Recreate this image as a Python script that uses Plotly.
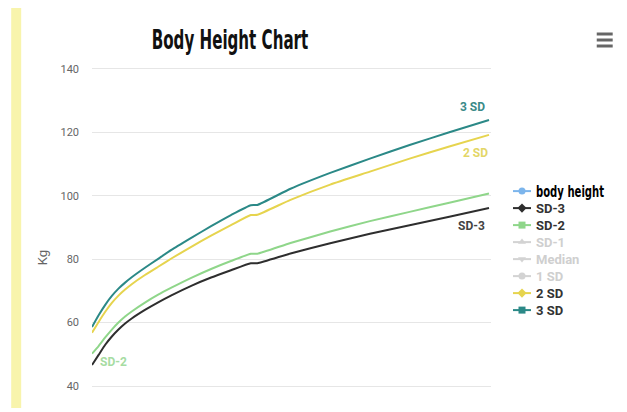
import plotly.graph_objects as go

# Age in months (the step at 24 is the switch from lying length to standing height)
months = [0, 1, 2, 3, 4, 5, 6, 8, 10, 12, 15, 18, 21, 24, 25, 30, 36, 42, 48, 54, 60]

sd_minus3 = [46.6, 49.8, 53.0, 55.6, 57.8, 59.7, 61.3, 64.0, 66.4, 68.6, 71.6, 74.2, 76.5, 78.7, 78.7,
             81.8, 85.0, 88.0, 90.7, 93.4, 96.1]
sd_minus2 = [50.2, 52.6, 55.3, 57.8, 60.0, 61.9, 63.5, 66.3, 68.8, 71.0, 74.1, 76.9, 79.4, 81.7, 81.7,
             85.1, 88.7, 92.0, 94.9, 97.8, 100.7]
sd_plus2 = [56.8, 60.2, 63.4, 66.2, 68.5, 70.4, 72.1, 75.0, 77.6, 80.2, 83.9, 87.4, 90.7, 93.9, 94.0,
            98.7, 103.5, 107.6, 111.7, 115.5, 119.2]
sd_plus3 = [58.6, 62.3, 65.6, 68.4, 70.7, 72.6, 74.3, 77.3, 80.1, 82.9, 86.7, 90.4, 93.9, 97.0, 97.1,
            102.2, 107.2, 111.7, 116.0, 120.0, 123.9]

body_months = [1]
body_height = [50.8]

y_ticks = [40, 60, 80, 100, 120, 140]

W, H = 627, 412
L, R, T, B = 92, 135, 60, 0


def px(x, y):
    """Pixel position -> paper coordinates of the plot area."""
    return (x - L) / (W - L - R), (H - B - y) / (H - T - B)


fig = go.Figure()


def series(name, xs, ys, color, symbol, visible=True):
    fig.add_trace(go.Scatter(
        x=xs, y=ys, name=name, mode="lines+markers", visible=visible,
        line=dict(color=color, width=2, shape="spline", smoothing=0.5),
        marker=dict(color=color, size=7, symbol=symbol),
        # markers only show up in the legend, not along the lines
        selectedpoints=[], unselected=dict(marker=dict(opacity=0)),
        hoverinfo="skip",
    ))


series('<span style="font-family:\'DejaVu Sans Condensed\';font-size:14px;color:#000">body height</span>',
       body_months, body_height, "#7cb5ec", "circle")
series("SD-3", months, sd_minus3, "#2e2e2e", "diamond")
series("SD-2", months, sd_minus2, "#8fd68a", "square")
series('<span style="color:#a0a0a0">SD-1</span>', months, [None] * len(months), "#a8a8a8",
       "triangle-up", visible="legendonly")
series('<span style="color:#a0a0a0">Median</span>', months, [None] * len(months), "#a8a8a8",
       "triangle-down", visible="legendonly")
series('<span style="color:#a0a0a0">1 SD</span>', months, [None] * len(months), "#a8a8a8",
       "circle", visible="legendonly")
series("2 SD", months, sd_plus2, "#e6d44e", "diamond")
series("3 SD", months, sd_plus3, "#2b8987", "square")

# Series labels at the line ends
lab_font = dict(family="Roboto", size=12, color="#333")
fig.add_annotation(x=months[-1], y=sd_plus3[-1], text="<b>3 SD</b>", showarrow=False,
                   xanchor="right", yanchor="middle", yshift=13, xshift=-2,
                   font=dict(lab_font, color="#3a8a88"))
fig.add_annotation(x=months[-1], y=sd_plus2[-1], text="<b>2 SD</b>", showarrow=False,
                   xanchor="right", yanchor="middle", yshift=-18, xshift=1,
                   font=dict(lab_font, color="#e3d666"))
fig.add_annotation(x=months[-1], y=sd_minus3[-1], text="<b>SD-3</b>", showarrow=False,
                   xanchor="right", yanchor="middle", yshift=-18, xshift=-2,
                   font=dict(lab_font, color="#444"))
fig.add_annotation(x=months[0], y=sd_minus2[0], text="<b>SD-2</b>", showarrow=False,
                   xanchor="left", yanchor="middle", yshift=-8, xshift=6,
                   font=dict(lab_font, color="#a6dca2"))

# Axis title
kx, ky = px(42, 258)
fig.add_annotation(x=kx, y=ky, xref="paper", yref="paper", text="Kg", showarrow=False,
                   xanchor="center", yanchor="middle", textangle=-90,
                   font=dict(family="Roboto", size=13, color="#666"))

# Title
tx, ty = px(230, 40)
fig.add_annotation(x=tx, y=ty, xref="paper", yref="paper", text="<b>Body Height Chart</b>",
                   showarrow=False, xanchor="center", yanchor="middle",
                   font=dict(family="DejaVu Sans Condensed", size=24, color="#111"))

shapes = []
# yellow strip on the left edge
x0, y0 = px(11, 408)
x1, y1 = px(21, 8)
shapes.append(dict(type="rect", xref="paper", yref="paper", x0=x0, y0=y0, x1=x1, y1=y1,
                   fillcolor="#f8f4ac", line=dict(width=0), layer="below"))
# menu button
for yy in (34, 40, 46):
    a, b = px(598, yy)
    c, _ = px(614, yy)
    shapes.append(dict(type="line", xref="paper", yref="paper", x0=a, y0=b, x1=c, y1=b,
                       line=dict(color="#666", width=3)))

lx, ly = px(497, 251)
fig.update_layout(
    width=W, height=H,
    margin=dict(l=L, r=R, t=T, b=B),
    paper_bgcolor="white", plot_bgcolor="white",
    shapes=shapes,
    showlegend=True,
    legend=dict(x=lx, y=ly, xanchor="left", yanchor="middle",
                font=dict(family="Roboto", size=13, color="#333", weight="bold"),
                itemwidth=30, tracegroupgap=0, bgcolor="rgba(0,0,0,0)"),
    xaxis=dict(range=[0, 60.3], visible=False),
    yaxis=dict(range=[31.8, 142.8], tickvals=y_ticks, showgrid=True, gridcolor="#e6e6e6",
               gridwidth=1, zeroline=False, showline=False, ticklabelstandoff=12,
               tickfont=dict(family="Roboto", size=11, color="#666")),
)

# Narrow, tall lettering for the heading and the "body height" legend entry,
# short legend keys and a tighter legend row pitch
post = """
(function(){
  var gd = document.getElementById('{plot_id}');
  var ROW = 17;
  function squash(){
    gd.querySelectorAll('text').forEach(function(t){
      var s = t.textContent;
      if (s === 'Body Height Chart') {
        t.style.transformBox = 'fill-box';
        t.style.transformOrigin = 'center';
        t.style.transform = 'scale(0.70, 1.1)';
      } else if (s === 'body height') {
        t.style.transformBox = 'fill-box';
        t.style.transformOrigin = 'left center';
        t.style.transform = 'scale(0.8, 1.15)';
      }
    });
    gd.querySelectorAll('.legend .legendlines path').forEach(function(p){
      p.style.transformBox = 'fill-box';
      p.style.transformOrigin = 'right center';
      p.style.transform = 'scaleX(0.6)';
    });
    gd.querySelectorAll('.legend .scatterpts').forEach(function(p){
      p.setAttribute('transform', 'translate(26,0)');
    });
    var items = Array.prototype.slice.call(gd.querySelectorAll('.legend .traces'));
    var xs = [], ys = [];
    items.forEach(function(g){
      var m = /translate\\(\\s*([-\\d.e]+)[ ,]+([-\\d.e]+)\\s*\\)/.exec(g.getAttribute('transform') || '');
      xs.push(m ? +m[1] : 0); ys.push(m ? +m[2] : 0);
    });
    if (!items.length) return;
    var mean = ys.reduce(function(a, b){ return a + b; }, 0) / ys.length;
    items.forEach(function(g, i){
      var y = mean + (i - (items.length - 1) / 2) * ROW;
      g.setAttribute('transform', 'translate(' + xs[i] + ',' + y + ')');
    });
  }
  squash();
  if (gd.on) gd.on('plotly_afterplot', squash);
})();
"""

fig.write_html("out.html", post_script=post)
